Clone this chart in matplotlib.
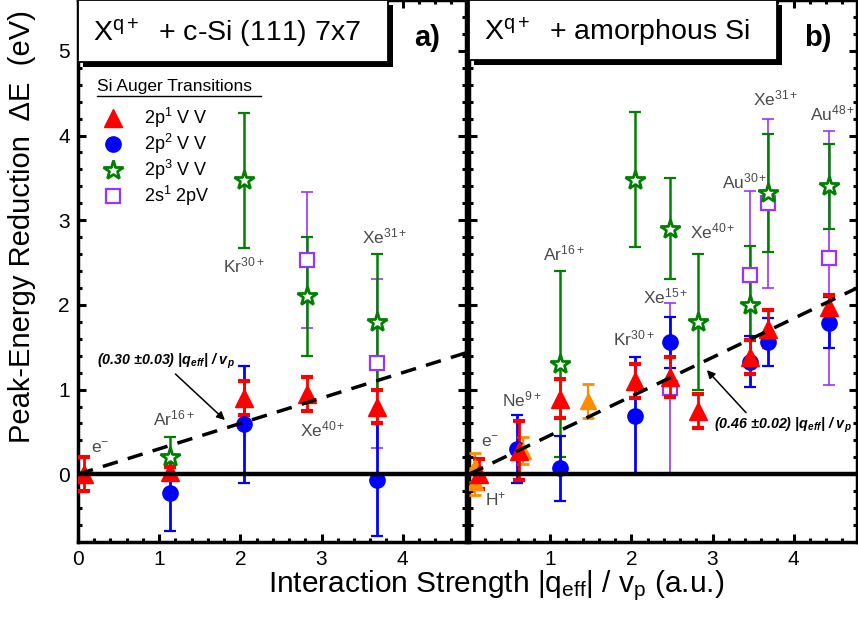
import matplotlib
matplotlib.use("Agg")
import matplotlib.pyplot as plt
from matplotlib.patches import Rectangle
from matplotlib.ticker import MultipleLocator, FixedLocator

plt.rcParams['font.family'] = ['Liberation Sans', 'DejaVu Sans']
plt.rcParams['mathtext.fontset'] = 'custom'
plt.rcParams['mathtext.rm'] = 'Liberation Sans'
plt.rcParams['mathtext.it'] = 'Liberation Sans:italic'
plt.rcParams['mathtext.bf'] = 'Liberation Sans:bold'
try:
    plt.rcParams['mathtext.bfit'] = 'Liberation Sans:italic:bold'
except KeyError:
    pass

# ---------------- data: panel a) c-Si(111) 7x7 ----------------
a_red_x = [0.08, 1.13, 2.04, 2.82, 3.68]
a_red_y = [0.00, 0.03, 0.90, 0.95, 0.80]
a_red_e = [0.20, 0.05, 0.20, 0.20, 0.20]
a_blue_x = [1.13, 2.04, 3.68]
a_blue_y = [-0.22, 0.59, -0.07]
a_blue_e = [0.45, 0.69, 0.66]
a_green_x = [1.13, 2.04, 2.82, 3.68]
a_green_y = [0.20, 3.47, 2.10, 1.80]
a_green_e = [0.24, 0.80, 0.70, 0.80]
a_purple_x = [2.82, 3.68]
a_purple_y = [2.53, 1.31]
a_purple_e = [0.80, 1.00]
a_slope = 0.30
a_labels = ["e$^{-}$", "Ar$^{16+}$", "Kr$^{30+}$", "Xe$^{40+}$", "Xe$^{31+}$"]
a_label_x = [0.16, 0.92, 1.79, 2.73, 3.50]
a_label_y = [0.25, 0.58, 2.38, 0.45, 2.73]

# ---------------- data: panel b) amorphous Si ----------------
b_red_x = [0.12, 0.62, 1.12, 2.04, 2.48, 2.82, 3.46, 3.68, 4.43]
b_red_y = [0.00, 0.28, 0.89, 1.10, 1.15, 0.75, 1.38, 1.72, 1.97]
b_red_e = [0.18, 0.35, 0.23, 0.20, 0.24, 0.20, 0.20, 0.22, 0.15]
b_blue_x = [0.59, 1.12, 2.04, 2.48, 3.46, 3.68, 4.43]
b_blue_y = [0.30, 0.07, 0.69, 1.56, 1.33, 1.56, 1.79]
b_blue_e = [0.40, 0.38, 0.69, 0.30, 0.30, 0.28, 0.30]
b_green_x = [1.12, 2.04, 2.48, 2.82, 3.46, 3.68, 4.43]
b_green_y = [1.30, 3.48, 2.90, 1.80, 2.00, 3.32, 3.40]
b_green_e = [1.10, 0.80, 0.60, 0.80, 0.70, 0.70, 0.50]
b_purple_x = [2.48, 3.46, 3.68, 4.43]
b_purple_y = [1.02, 2.35, 3.20, 2.55]
b_purple_e = [1.00, 1.00, 1.00, 1.50]
b_orange_x = [0.08, 0.08, 0.66, 1.47]
b_orange_y = [0.08, -0.09, 0.28, 0.87]
b_orange_e = [0.17, 0.16, 0.16, 0.20]
b_slope = 0.46
b_labels = ["e$^{-}$", "H$^{+}$", "Ne$^{9+}$", "Ar$^{16+}$", "Kr$^{30+}$", "Xe$^{15+}$",
            "Xe$^{40+}$", "Au$^{30+}$", "Xe$^{31+}$", "Au$^{48+}$"]
b_label_x = [0.15, 0.20, 0.41, 0.91, 1.77, 2.14, 2.72, 3.12, 3.50, 4.20]
b_label_y = [0.32, -0.37, 0.80, 2.53, 1.52, 2.02, 2.78, 3.38, 4.36, 4.18]

legend_labels = ["2p$^{1}$ V V", "2p$^{2}$ V V", "2p$^{3}$ V V", "2s$^{1}$ 2pV"]

RED = '#ff0000'
BLUE = '#0000ff'
GREEN = '#008000'
PURPLE = '#9933ff'
ORANGE = '#ff8c00'
GRAY = '#4a4a4a'

W, H = 858, 619
fig = plt.figure(figsize=(W / 100, H / 100), dpi=100)
axa = fig.add_axes([78 / W, 77 / H, 388 / W, 542 / H])
axb = fig.add_axes([469 / W, 77 / H, 388 / W, 542 / H])

XMAX = 4.78


def style_axis(ax, xticks):
    ax.set_xlim(0, XMAX)
    ax.set_ylim(-0.8, 5.6)
    for s in ax.spines.values():
        s.set_linewidth(2.5)
    ax.xaxis.set_major_locator(FixedLocator(xticks))
    ax.xaxis.set_minor_locator(MultipleLocator(0.2))
    ax.yaxis.set_major_locator(MultipleLocator(1))
    ax.yaxis.set_minor_locator(MultipleLocator(0.2))
    ax.tick_params(which='both', direction='in', top=True, right=True)
    ax.tick_params(which='major', length=6, width=2.2, labelsize=15, pad=6)
    ax.tick_params(which='minor', length=3, width=2.2)


def series(ax, x, y, e, color, marker, ms, mfc, mew, elw, capsize, capthick, z):
    ax.errorbar(x, y, yerr=e, fmt='none', ecolor=color, elinewidth=elw,
                capsize=capsize, capthick=capthick, zorder=z)
    ax.plot(x, y, linestyle='none', marker=marker, ms=ms, mfc=mfc, mec=color,
            mew=mew, zorder=z + 0.5)


def draw_panel(ax, red, blue, green, purple, orange=None):
    series(ax, *purple, PURPLE, 's', 10, 'white', 1.6, 1.2, 4, 1.2, 2)
    series(ax, *green, GREEN, '*', 15, 'white', 2.0, 1.8, 4, 1.6, 2.2)
    series(ax, *blue, BLUE, 'o', 11, BLUE, 1.0, 2.0, 4, 1.6, 2.4)
    if orange is not None:
        series(ax, *orange, ORANGE, '^', 12, ORANGE, 1.0, 1.6, 4, 2.0, 2.6)
    series(ax, *red, RED, '^', 13, RED, 1.0, 2.0, 4, 3.0, 2.8)
    ax.axhline(0, color='black', lw=3.2, zorder=6)


def title_box(ax, x1, y0, text, tag):
    dx, dy = 5 / 388, 5 / 542
    ax.add_patch(Rectangle((dx, y0 - dy), x1, 1.0 - y0, transform=ax.transAxes,
                           facecolor='black', edgecolor='none', clip_on=False, zorder=9))
    ax.add_patch(Rectangle((0, y0), x1, 1.0 - y0, transform=ax.transAxes,
                           facecolor='white', edgecolor='black', lw=1.3, clip_on=False,
                           zorder=10))
    ax.text(15 / 388, (1.0 + y0) / 2 - 0.004, text, transform=ax.transAxes, fontsize=20.5,
            ha='left', va='center', zorder=11)
    ax.text(0.90, 0.93, tag, transform=ax.transAxes, fontsize=21, ha='center',
            va='center', zorder=11, fontweight='bold')


# ---------------- panel a ----------------
style_axis(axa, [0, 1, 2, 3, 4])
draw_panel(axa, (a_red_x, a_red_y, a_red_e), (a_blue_x, a_blue_y, a_blue_e),
           (a_green_x, a_green_y, a_green_e), (a_purple_x, a_purple_y, a_purple_e))
axa.plot([0, XMAX], [0, a_slope * XMAX], color='black', lw=2.5, dashes=(4.5, 3), zorder=7)
for t, x, y in zip(a_labels, a_label_x, a_label_y):
    axa.text(x, y, t, fontsize=12.5, color=GRAY, ha='left', va='baseline', zorder=8)
axa.annotate("(0.30 ±0.03) |q$_{\\mathbfit{eff}}$| / v$_{\\mathbfit{p}}$",
             xy=(1.81, 0.64), xytext=(0.23, 1.33), fontsize=10.3, fontweight='bold',
             fontstyle='italic', ha='left', va='center',
             arrowprops=dict(arrowstyle='-|>', color='black', lw=1.1,
                             mutation_scale=12, shrinkA=0, shrinkB=0,
                             relpos=(0.55, 0.0)), zorder=8)
title_box(axa, 310 / 388, 1 - 62 / 542, "$\\mathregular{X^{q+}}$  + c-Si (111) 7x7", "a)")

# legend
axa.text(19 / 388, 1 - 87 / 542, "Si Auger Transitions", transform=axa.transAxes,
         fontsize=12.5, ha='left', va='center')
axa.plot([19 / 388, 183 / 388], [1 - 96 / 542, 1 - 96 / 542], transform=axa.transAxes,
         color='black', lw=1.0, clip_on=False)
leg_styles = [('^', RED, RED, 13, 1.0), ('o', BLUE, BLUE, 11, 1.0),
              ('*', GREEN, 'white', 15, 2.0), ('s', PURPLE, 'white', 10, 1.6)]
for i, (lab, (mk, c, fc, ms, mw)) in enumerate(zip(legend_labels, leg_styles)):
    yy = 1 - (118 + 26 * i) / 542
    axa.plot([35 / 388], [yy], transform=axa.transAxes, marker=mk, ms=ms, mec=c, mfc=fc,
             mew=mw, linestyle='none', clip_on=False)
    axa.text(66 / 388, yy, lab, transform=axa.transAxes, fontsize=13, ha='left',
             va='center')

# ---------------- panel b ----------------
style_axis(axb, [1, 2, 3, 4])
axb.tick_params(labelleft=False)
draw_panel(axb, (b_red_x, b_red_y, b_red_e), (b_blue_x, b_blue_y, b_blue_e),
           (b_green_x, b_green_y, b_green_e), (b_purple_x, b_purple_y, b_purple_e),
           (b_orange_x, b_orange_y, b_orange_e))
axb.plot([0, XMAX], [0, b_slope * XMAX], color='black', lw=2.5, dashes=(4.5, 3), zorder=7)
for t, x, y in zip(b_labels, b_label_x, b_label_y):
    axb.text(x, y, t, fontsize=12.5, color=GRAY, ha='left', va='baseline', zorder=8)
axb.annotate("(0.46 ±0.02) |q$_{\\mathbfit{eff}}$| / v$_{\\mathbfit{p}}$",
             xy=(2.93, 1.23), xytext=(3.02, 0.58), fontsize=10.3, fontweight='bold',
             fontstyle='italic', ha='left', va='center',
             arrowprops=dict(arrowstyle='-|>', color='black', lw=1.1,
                             mutation_scale=12, shrinkA=0, shrinkB=0,
                             relpos=(0.25, 1.0)), zorder=8)
title_box(axb, 308 / 388, 1 - 60 / 542, "$\\mathregular{X^{q+}}$  + amorphous Si", "b)")

# axis labels
fig.text(22 / W, 1 - 227 / H, "Peak-Energy Reduction  ΔE  (eV)", rotation=90,
         fontsize=21, ha='center', va='center')
fig.text(496 / W, 1 - 586 / H, "Interaction Strength |q$_{\\mathregular{eff}}$| / v$_{\\mathregular{p}}$ (a.u.)",
         fontsize=21.5, ha='center', va='center')

fig.savefig("out.png", dpi=100)
